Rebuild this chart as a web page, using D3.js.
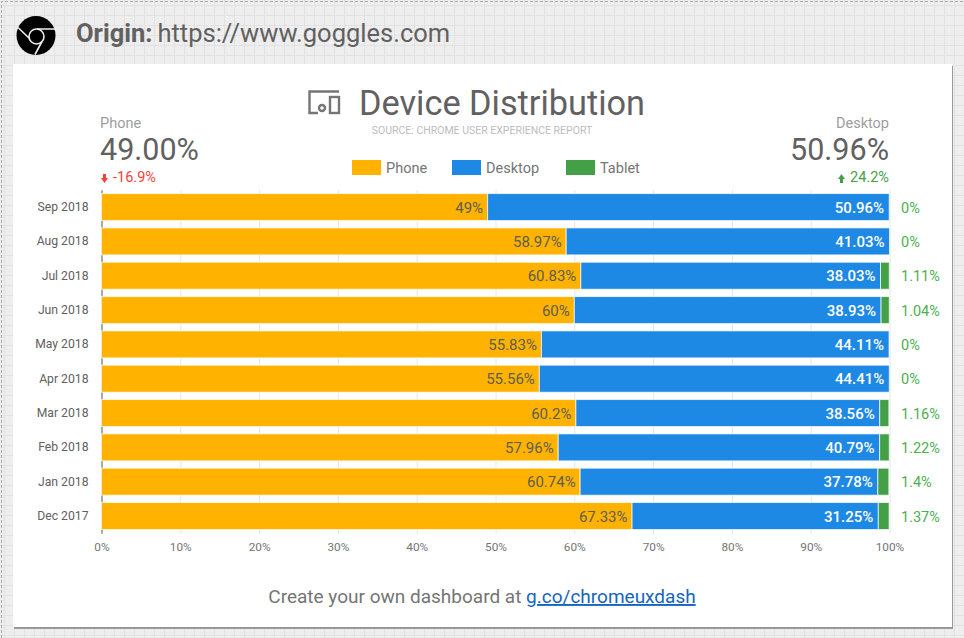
<!DOCTYPE html>
<head>
  <meta charset="utf-8" />
  <script src="https://d3js.org/d3.v7.min.js"></script>
  <style>
    body { margin: 0; background: #eee; }
    svg { display: block; }
    text { font-family: Roboto, sans-serif; }
  </style>
</head>
<body>
  <script>
    var months = ["Sep 2018", "Aug 2018", "Jul 2018", "Jun 2018", "May 2018", "Apr 2018", "Mar 2018", "Feb 2018", "Jan 2018", "Dec 2017"];
    var phone = [49, 58.97, 60.83, 60, 55.83, 55.56, 60.2, 57.96, 60.74, 67.33];
    var desktop = [50.96, 41.03, 38.03, 38.93, 44.11, 44.41, 38.56, 40.79, 37.78, 31.25];
    var tablet = [0, 0, 1.11, 1.04, 0, 0, 1.16, 1.22, 1.4, 1.37];
    var seriesNames = ["Phone", "Desktop", "Tablet"];
    var seriesColors = ["#ffb300", "#1e88e5", "#43a047"];
    var xTicks = [0, 10, 20, 30, 40, 50, 60, 70, 80, 90, 100];

    var width = 964, height = 638;
    var svg = d3.select("body").append("svg").attr("width", width).attr("height", height);

    // page background with the report grid
    svg.append("rect").attr("width", width).attr("height", height).attr("fill", "#eeeeee");
    var grid = svg.append("g").attr("stroke", "#e2e2e2").attr("stroke-width", 1);
    d3.range(4, width, 10).forEach(function (x) {
      grid.append("line").attr("x1", x + 0.5).attr("x2", x + 0.5).attr("y1", 0).attr("y2", height);
    });
    d3.range(5, height, 10).forEach(function (y) {
      grid.append("line").attr("y1", y + 0.5).attr("y2", y + 0.5).attr("x1", 0).attr("x2", width);
    });
    svg.append("path").attr("d", "M1.5 638V1.5H964").attr("fill", "none")
      .attr("stroke", "#aaa").attr("stroke-dasharray", "3 2");

    // origin header
    var chrome = svg.append("g").attr("transform", "translate(36,35.5)");
    chrome.append("circle").attr("r", 19.5).attr("fill", "#000");
    chrome.append("circle").attr("cx", 0.5).attr("cy", 1).attr("r", 7.5).attr("fill", "none").attr("stroke", "#eee").attr("stroke-width", 1.6);
    chrome.append("path").attr("fill", "none").attr("stroke", "#eee").attr("stroke-width", 1.6)
      .attr("d", "M1 -6.5H19M-6.5 3L-18 -8M6 6L-1 19");

    var origin = svg.append("text").attr("x", 76).attr("y", 42).attr("font-size", 25.5).attr("fill", "#616161");
    origin.append("tspan").attr("font-weight", 700).text("Origin:");
    origin.append("tspan").attr("dx", 5).text("https://www.goggles.com");

    // card
    svg.append("rect").attr("x", 14).attr("y", 66).attr("width", 939).attr("height", 563).attr("fill", "#999");
    svg.append("rect").attr("x", 13).attr("y", 64).attr("width", 939).attr("height", 563).attr("fill", "#fff");

    // title
    var icon = svg.append("g").attr("fill", "none").attr("stroke", "#757575").attr("stroke-width", 2.4);
    icon.append("path").attr("d", "M339 91.5H309.5V113H318");
    icon.append("rect").attr("x", 330).attr("y", 97).attr("width", 9).attr("height", 16);
    icon.append("circle").attr("cx", 322).attr("cy", 108).attr("r", 3);
    svg.append("text").attr("x", 359).attr("y", 115).attr("font-size", 34.3).attr("fill", "#616161").text("Device Distribution");
    svg.append("text").attr("x", 482).attr("y", 133.5).attr("font-size", 10.5).attr("text-anchor", "middle")
      .attr("fill", "#bdbdbd").text("SOURCE: CHROME USER EXPERIENCE REPORT");

    var x = d3.scaleLinear().domain([0, 100]).range([101.5, 889.5]);
    var y = d3.scaleBand().domain(months).range([189.9, 533.2]).paddingInner(0.2135).paddingOuter(0.107);

    // scorecards
    svg.append("text").attr("x", 100).attr("y", 128).attr("font-size", 14.5).attr("fill", "#9e9e9e").text(seriesNames[0]);
    svg.append("text").attr("x", 100).attr("y", 160).attr("font-size", 30.5).attr("fill", "#616161").text(phone[0].toFixed(2) + "%");
    svg.append("text").attr("x", 113).attr("y", 182).attr("font-size", 14.5).attr("fill", "#f44336").text("-16.9%");
    svg.append("path").attr("d", "M103 174h3v4h2l-3.5 5l-3.5 -5h2z").attr("fill", "#f44336");
    svg.append("text").attr("x", 889).attr("y", 128).attr("font-size", 14.5).attr("text-anchor", "end").attr("fill", "#9e9e9e").text(seriesNames[1]);
    svg.append("text").attr("x", 889).attr("y", 160).attr("font-size", 30.5).attr("text-anchor", "end").attr("fill", "#616161").text(desktop[0].toFixed(2) + "%");
    svg.append("text").attr("x", 889).attr("y", 182).attr("font-size", 14.5).attr("text-anchor", "end").attr("fill", "#43a047").text("24.2%");
    svg.append("path").attr("d", "M843 183h-3v-4h-2l3.5 -5l3.5 5h-2z").attr("fill", "#43a047");

    // legend
    var legendX = [352, 452, 566];
    seriesNames.forEach(function (name, i) {
      svg.append("rect").attr("x", legendX[i]).attr("y", 160).attr("width", 29).attr("height", 15).attr("fill", seriesColors[i]);
      svg.append("text").attr("x", legendX[i] + 34).attr("y", 173).attr("font-size", 14.5).attr("fill", "#757575").text(name);
    });

    // vertical gridlines and axes
    var axisG = svg.append("g").attr("transform", "translate(0,534)")
      .call(d3.axisBottom(x).tickValues(xTicks).tickFormat(function (d) { return d + "%"; })
        .tickSize(-344).tickPadding(9));
    axisG.select(".domain").remove();
    axisG.selectAll("line").attr("stroke", "#e6e6e6");
    axisG.selectAll("text").attr("font-size", 11.8).attr("fill", "#757575");

    var yAxis = svg.append("g").attr("transform", "translate(101.5,0)")
      .call(d3.axisLeft(y).tickSize(0).tickPadding(13));
    yAxis.select(".domain").attr("stroke", "#616161");
    yAxis.selectAll("text").attr("font-size", 12.2).attr("fill", "#616161");

    // stacked bars
    var rows = months.map(function (m, i) {
      return { month: m, Phone: phone[i], Desktop: desktop[i], Tablet: tablet[i] };
    });
    var stacked = d3.stack().keys(seriesNames)(rows);

    svg.selectAll("g.series").data(stacked).join("g").attr("class", "series")
      .attr("fill", function (d, i) { return seriesColors[i]; })
      .selectAll("rect").data(function (d) { return d; }).join("rect")
      .attr("x", function (d) { return x(d[0]); })
      .attr("y", function (d) { return y(d.data.month); })
      .attr("width", function (d) { return x(d[1]) - x(d[0]); })
      .attr("height", y.bandwidth())
      .attr("stroke", "#fff").attr("stroke-opacity", 0.7).attr("stroke-width", 1);

    var mid = y.bandwidth() / 2 + 5.5;
    svg.selectAll("text.phone").data(rows).join("text").attr("class", "phone")
      .attr("x", function (d) { return x(d.Phone) - 4.5; })
      .attr("y", function (d) { return y(d.month) + mid; })
      .attr("text-anchor", "end").attr("font-size", 15).attr("fill", "#5d5d4f")
      .text(function (d) { return d.Phone + "%"; });
    svg.selectAll("text.desktop").data(rows).join("text").attr("class", "desktop")
      .attr("x", function (d) { return x(d.Phone + d.Desktop) - 5; })
      .attr("y", function (d) { return y(d.month) + mid; })
      .attr("text-anchor", "end").attr("font-size", 15).attr("font-weight", 500).attr("fill", "#fff")
      .text(function (d) { return d.Desktop + "%"; });
    svg.selectAll("text.tablet").data(rows).join("text").attr("class", "tablet")
      .attr("x", 901)
      .attr("y", function (d) { return y(d.month) + mid; })
      .attr("font-size", 14.5).attr("fill", "#4caf50")
      .text(function (d) { return d.Tablet + "%"; });

    // footer
    var foot = svg.append("text").attr("x", 482).attr("y", 603).attr("text-anchor", "middle").attr("font-size", 19).attr("fill", "#757575");
    foot.append("tspan").text("Create your own dashboard at ");
    foot.append("tspan").attr("fill", "#1565c0").attr("text-decoration", "underline").text("g.co/chromeuxdash");
  </script>
</body>
